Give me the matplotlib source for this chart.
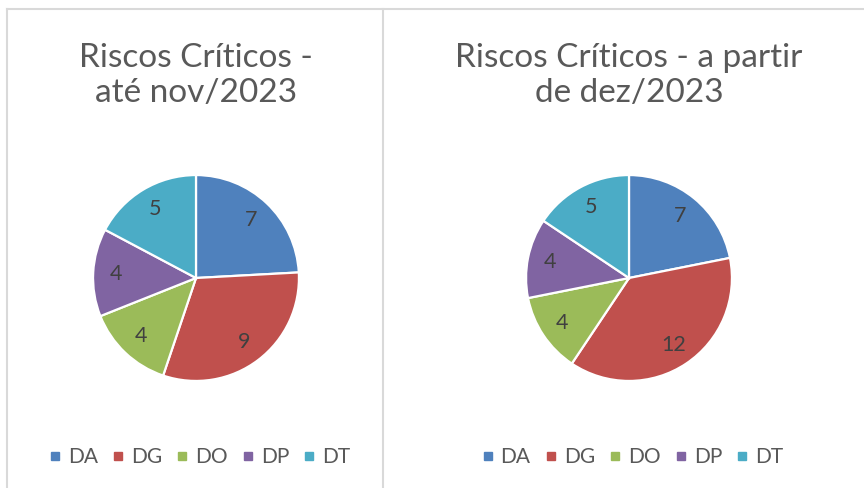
import matplotlib.pyplot as plt
from matplotlib.lines import Line2D

# Dados dos dois gráficos
categorias = ['DA', 'DG', 'DO', 'DP', 'DT']
valores_ate_nov = [7, 9, 4, 4, 5]
valores_dez = [7, 12, 4, 4, 5]
titulos = ['Riscos Críticos -\naté nov/2023', 'Riscos Críticos - a partir\nde dez/2023']
cores = ['#4F81BD', '#C0504D', '#9BBB59', '#8064A2', '#4BACC6']

plt.rcParams['font.family'] = ['Lato', 'DejaVu Sans']

W, H = 864, 488
fig = plt.figure(figsize=(W / 100, H / 100), dpi=100)
fig.patch.set_facecolor('white')


def px(x, y):
    # pixel (from top-left) -> figure fraction
    return x / W, 1 - y / H


def draw_pie(cx, valores, titulo):
    r = 105
    ax = fig.add_axes([(cx - r) / W, (H - 278 - r) / H, 2 * r / W, 2 * r / H])
    ax.pie(valores, colors=cores, startangle=90, counterclock=False, radius=1,
           autopct=lambda p: f'{p * sum(valores) / 100:.0f}', pctdistance=0.78,
           wedgeprops=dict(edgecolor='white', linewidth=1.6),
           textprops=dict(color='#404040', fontsize=15.5))
    ax.set_xlim(-1.02, 1.02)
    ax.set_ylim(-1.02, 1.02)
    ax.set_aspect('equal')
    ax.axis('off')

    # baseline da última linha do título
    tx, ty = px(cx, 102)
    fig.text(tx, ty, titulo, ha='center', va='baseline', fontsize=24,
             color='#595959', linespacing=1.19)

    handles = [Line2D([], [], marker='s', linestyle='', markersize=6,
                      markerfacecolor=c, markeredgecolor=c) for c in cores]
    lx, ly = px(cx + 4, 457)
    fig.legend(handles, categorias, loc='center', bbox_to_anchor=(lx, ly),
               ncol=5, frameon=False, fontsize=15, labelcolor='#595959',
               handlelength=0.5, handletextpad=0.37, columnspacing=0.72)


draw_pie(196, valores_ate_nov, titulos[0])
draw_pie(629, valores_dez, titulos[1])

# Bordas dos gráficos
borda = '#D9D9D9'
fig.add_artist(Line2D([px(7, 0)[0], 1], [px(0, 9)[1]] * 2, color=borda, lw=1.5))
fig.add_artist(Line2D([px(7, 0)[0]] * 2, [0, px(0, 9)[1]], color=borda, lw=1.5))
fig.add_artist(Line2D([px(383, 0)[0]] * 2, [0, px(0, 9)[1]], color=borda, lw=1.5))

fig.savefig('out.png', dpi=100)
